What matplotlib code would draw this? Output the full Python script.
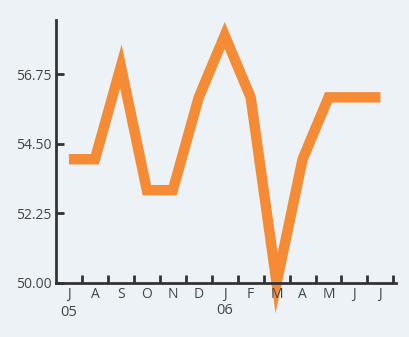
import matplotlib.pyplot as plt
import numpy as np

# monthly values, Jul 2005 - Jul 2006
months = ['J', 'A', 'S', 'O', 'N', 'D', 'J', 'F', 'M', 'A', 'M', 'J', 'J']
values = [54, 54, 57, 53, 53, 56, 58, 56, 50, 54, 56, 56, 56]
years = {0: ('05', -0.114), 6: ('06', -0.103)}
yticks = [50.00, 52.25, 54.50, 56.75]

bg = '#edf2f6'
ink = '#333333'
orange = '#f68b35'

plt.rcParams['font.family'] = ['Open Sans', 'DejaVu Sans']

fig = plt.figure(figsize=(4.09, 3.37), dpi=100, facecolor=bg)
ax = fig.add_axes([56 / 409, 54 / 337, 340 / 409, 263 / 337])
ax.set_facecolor(bg)

x = np.arange(len(months))
ax.plot(x, values, color=orange, lw=7.5, solid_joinstyle='miter',
        solid_capstyle='butt', zorder=1, clip_on=False)

ax.set_xlim(-0.5, len(months) - 0.4)
ax.set_ylim(50, 58.5)

for s in ['top', 'right']:
    ax.spines[s].set_visible(False)
for s in ['left', 'bottom']:
    ax.spines[s].set_color(ink)
    ax.spines[s].set_linewidth(2)
    ax.spines[s].set_zorder(3)

ax.set_yticks(yticks)
ax.set_yticklabels([f'{v:.2f}' for v in yticks])
ax.tick_params(axis='y', direction='in', length=6, width=2, color=ink,
               labelsize=10, labelcolor='#444444', pad=3)

ax.set_xticks(x)
ax.set_xticklabels(months)
ax.set_xticks(np.arange(len(months)) + 0.5, minor=True)
ax.tick_params(axis='x', which='major', length=0, labelsize=10,
               labelcolor='#444444', pad=3)
ax.tick_params(axis='x', which='minor', direction='in', length=6, width=2,
               color=ink)

for i, (yr, ypos) in years.items():
    ax.text(i, ypos, yr, transform=ax.get_xaxis_transform(), ha='center',
            va='center', fontsize=10.5, color='#444444')

fig.savefig('out.png', dpi=100, facecolor=bg)
